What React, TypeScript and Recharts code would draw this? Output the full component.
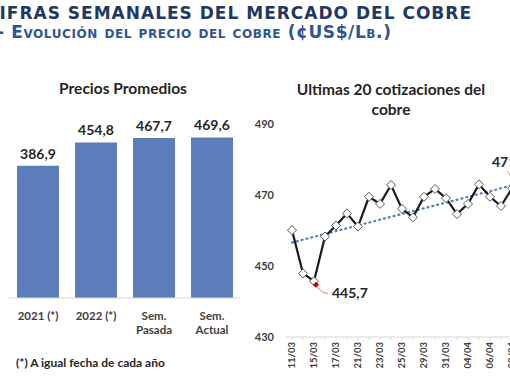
import React from 'react';
import { BarChart, Bar, XAxis, YAxis, LabelList, LineChart, Line, ReferenceLine } from 'recharts';

const barCategories = ['2021 (*)', '2022 (*)', 'Sem.\nPasada', 'Sem.\nActual'];
const barValues = [386.9, 454.8, 467.7, 469.6];

const dates = ['11/03', '14/03', '15/03', '16/03', '17/03', '18/03', '21/03', '22/03', '23/03', '24/03', '25/03', '28/03', '29/03', '30/03', '31/03', '01/04', '04/04', '05/04', '06/04', '07/04', '08/04'];
const prices = [460.1, 447.9, 445.7, 458.3, 461.4, 464.8, 461.1, 469.5, 467.5, 472.8, 466.1, 463.7, 469.5, 471.7, 469.1, 464.6, 467.5, 473.0, 469.5, 466.9, 471.9];
const yTicks = [430, 450, 470, 490];
const trendStart = 456.6;
const trendEnd = 472.7;

const barData = barCategories.map((c, i) => ({ cat: c, v: barValues[i] }));
const lineData = dates.map((d, i) => ({ d, p: prices[i] }));
const minIdx = prices.indexOf(Math.min(...prices));
const lastIdx = prices.length - 1;

const fmt = (v: number) => v.toFixed(1).replace('.', ',');
const FONT = 'Lato, "Open Sans", sans-serif';

const BarTick = (props: any) => {
  const { x, y, payload } = props;
  const lines = String(payload.value).split('\n');
  return (
    <g>
      {lines.map((l, i) => (
        <text key={i} x={x} y={y + 14 + i * 14} textAnchor="middle" fontFamily={FONT} fontWeight={700} fontSize={11.5} fill="#404040">
          {l}
        </text>
      ))}
    </g>
  );
};

const DateTick = (props: any) => {
  const { x, y, payload, index } = props;
  if (index % 2 !== 0) return <g />;
  return (
    <text transform={`translate(${x},${y}) rotate(-90)`} textAnchor="end" dy="0.35em" fontFamily={FONT} fontWeight={700} fontSize={9.5} fill="#404040">
      {payload.value}
    </text>
  );
};

const Dot = (props: any) => {
  const { cx, cy, index } = props;
  if (cx == null || cy == null) return <g key={index} />;
  const s = 4.5;
  const diamond = (
    <polygon points={`${cx},${cy - s} ${cx + s},${cy} ${cx},${cy + s} ${cx - s},${cy}`} fill="#ffffff" stroke="#595959" strokeWidth={1} />
  );
  if (index === minIdx) {
    return (
      <g key={index}>
        {diamond}
        <polygon points={`${cx + 2},${cy + 0.5} ${cx + 5},${cy + 3.5} ${cx + 2},${cy + 6.5} ${cx - 1},${cy + 3.5}`} fill="#C00000" />
        <polyline points={`${cx + 3},${cy + 6} ${cx + 9},${cy + 11} ${cx + 14},${cy + 12.5}`} fill="none" stroke="#E08080" strokeWidth={1} />
        <text x={cx + 18} y={cy + 17} fontFamily={FONT} fontWeight={700} fontSize={14} fill="#262626">
          {fmt(prices[index])}
        </text>
      </g>
    );
  }
  if (index === lastIdx) {
    return (
      <g key={index}>
        {diamond}
        <polyline points={`${cx - 4},${cy - 17} ${cx - 1},${cy - 11}`} fill="none" stroke="#E0A060" strokeWidth={1} />
        <text x={cx - 20} y={cy - 21} fontFamily={FONT} fontWeight={700} fontSize={14} fill="#262626">
          {fmt(prices[index])}
        </text>
      </g>
    );
  }
  return <g key={index}>{diamond}</g>;
};

export default function App() {
  return (
    <div style={{ position: 'absolute', left: 0, top: 0, width: 510, height: 382, overflow: 'hidden', background: '#ffffff' }}>
      <div style={{ position: 'absolute', left: 0, top: 0 }}>
        <BarChart width={250} height={382} data={barData} margin={{ top: 127, right: 9, bottom: 44, left: 9 }} barSize={42}>
          <XAxis dataKey="cat" tick={<BarTick />} tickLine={false} axisLine={{ stroke: '#D9D9D9' }} height={40} interval={0} />
          <YAxis hide domain={[0, 500]} />
          <Bar dataKey="v" fill="#5B7DB9" isAnimationActive={false}>
            <LabelList dataKey="v" position="top" offset={7} formatter={(v: any) => fmt(Number(v))} style={{ fontFamily: FONT, fontWeight: 700, fontSize: 14, fill: '#262626' }} />
          </Bar>
        </BarChart>
      </div>
      <div style={{ position: 'absolute', left: 250, top: 0 }}>
        <LineChart width={268} height={382} data={lineData} margin={{ top: 124, right: 0, bottom: 5, left: 0 }}>
          <XAxis dataKey="d" interval={0} tick={<DateTick />} tickLine={{ stroke: '#D9D9D9' }} tickSize={3} axisLine={{ stroke: '#D9D9D9' }} height={40} padding={{ left: 6, right: 6 }} />
          <YAxis width={36} domain={[430, 490]} ticks={yTicks} tickLine={false} axisLine={false} tickSize={10} tickMargin={2} tick={{ fontFamily: FONT, fontWeight: 700, fontSize: 11, fill: '#404040' }} />
          <ReferenceLine segment={[{ x: dates[0], y: trendStart }, { x: dates[lastIdx], y: trendEnd }]} stroke="#4F81BD" strokeWidth={2.2} strokeDasharray="1 4" strokeLinecap="round" ifOverflow="visible" />
          <Line dataKey="p" stroke="#1A1A1A" strokeWidth={2.2} dot={<Dot />} isAnimationActive={false} />
        </LineChart>
      </div>
      <svg width={510} height={382} style={{ position: 'absolute', left: 0, top: 0, pointerEvents: 'none' }}>
        <text x={-14} y={19} fontFamily='"DejaVu Sans", Verdana, sans-serif' fontWeight={700} fontSize={17} letterSpacing={1} fill="#1F3864">CIFRAS SEMANALES DEL MERCADO DEL COBRE</text>
        <text x={-3} y={38} fontFamily='"DejaVu Sans", Verdana, sans-serif' fontWeight={700} fontSize={17} letterSpacing={0.6} fill="#2F5597" style={{ fontVariant: 'small-caps' }}>- Evolución del precio del cobre (¢US$/Lb.)</text>
        <text x={123} y={94} textAnchor="middle" fontFamily={FONT} fontWeight={700} fontSize={15.5} fill="#262626">Precios Promedios</text>
        <text x={391} y={95} textAnchor="middle" fontFamily={FONT} fontWeight={700} fontSize={15.5} fill="#262626">Ultimas 20 cotizaciones del</text>
        <text x={391} y={115} textAnchor="middle" fontFamily={FONT} fontWeight={700} fontSize={15.5} fill="#262626">cobre</text>
        <text x={16} y={367} fontFamily={FONT} fontWeight={700} fontSize={12} fill="#262626">(*) A igual fecha de cada año</text>
      </svg>
    </div>
  );
}
